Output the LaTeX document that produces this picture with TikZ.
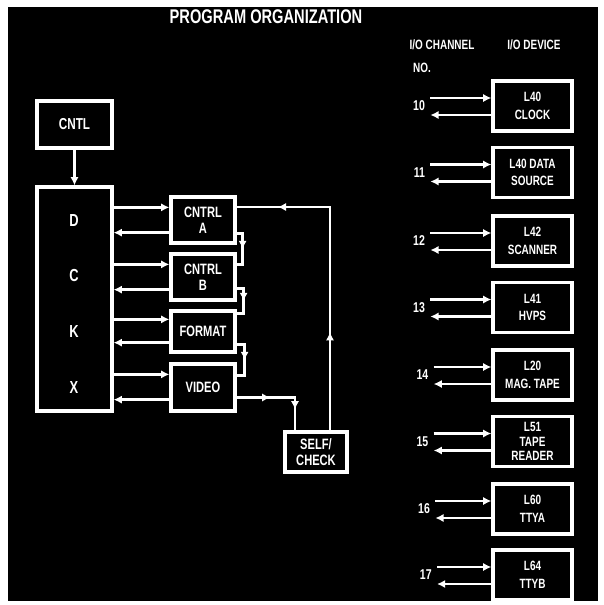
\documentclass[tikz,border=0pt]{standalone}
\usepackage{fontspec}
\setmainfont{Liberation Sans}
\usepackage{graphicx}
\usetikzlibrary{arrows.meta,calc,decorations.markings}
\newcommand{\tallt}[1]{\scalebox{1}[1.35]{#1}}

\begin{document}
\begin{tikzpicture}[
    x=0.03cm, y=-0.03cm,
    every node/.style={text=white},
    box/.style={draw=white, line width=2.8pt, align=center, inner sep=1pt},
    midbox/.style={box, minimum width=1.92cm, font=\fontsize{9.5}{14}\bfseries},
    devbox/.style={box, minimum width=2.37cm, minimum height=1.5cm, font=\fontsize{8.5}{15}\bfseries},
    num/.style={font=\fontsize{9}{11}\bfseries, inner sep=1pt, anchor=east},
    head/.style={font=\fontsize{8.5}{10}\bfseries, inner sep=1pt},
    link/.style={draw=white, line width=2.2pt},
    arr/.style={link, -{Latex[length=7pt,width=7pt]}},
    midarr/.style={link, decoration={markings, mark=at position 0.5 with {\arrow{Latex[length=7pt,width=7pt]}}}, postaction={decorate}},
    twoarr/.style 2 args={draw=white, line width=2.2pt, decoration={markings,
        mark=at position #1 with {\arrow{Latex[length=7pt,width=7pt]}},
        mark=at position #2 with {\arrow{Latex[length=7pt,width=7pt]}}}, postaction={decorate}}
]

% frame
\fill[white] (0,0) rectangle (603,605);
\fill[black] (8,7) rectangle (598,601);

\node[font=\fontsize{12.5}{14}\bfseries] (title) at (266,17) {\tallt{PROGRAM ORGANIZATION}};
\node[head] (hch) at (442,45) {\tallt{I/O CHANNEL}};
\node[head] (hno) at (422,68) {\tallt{NO.}};
\node[head] (hdev) at (534,45) {\tallt{I/O DEVICE}};

% program side
\node[box, minimum width=2.25cm, minimum height=1.41cm, font=\fontsize{10}{12}\bfseries] (cntl) at (74.5,124.5) {\tallt{CNTL}};
\node[box, minimum width=2.25cm, minimum height=6.72cm] (main) at (74.5,299) {};
\node[font=\fontsize{11}{13}\bfseries] (ld) at (74,221) {\tallt{D}};
\node[font=\fontsize{11}{13}\bfseries] (lc) at (74,276) {\tallt{C}};
\node[font=\fontsize{11}{13}\bfseries] (lk) at (74,332) {\tallt{K}};
\node[font=\fontsize{11}{13}\bfseries] (lx) at (74,388) {\tallt{X}};

\node[midbox, minimum height=1.38cm] (ctla) at (203,220) {\tallt{CNTRL}\\\tallt{A}};
\node[midbox, minimum height=1.38cm] (ctlb) at (203,277) {\tallt{CNTRL}\\\tallt{B}};
\node[midbox, minimum height=1.23cm] (fmt) at (203,331.5) {\tallt{FORMAT}};
\node[midbox, minimum height=1.41cm] (vid) at (203,387.5) {\tallt{VIDEO}};
\node[midbox, minimum width=1.86cm, minimum height=1.2cm] (self) at (316,452) {\tallt{SELF/}\\\tallt{CHECK}};

\draw[arr] (cntl) -- (main);

\coordinate (ai) at ([yshift=-0.36cm]ctla.north west);
\coordinate (ao) at ([yshift=0.36cm]ctla.south west);
\coordinate (bi) at ([yshift=-0.36cm]ctlb.north west);
\coordinate (bo) at ([yshift=0.36cm]ctlb.south west);
\coordinate (fi) at ([yshift=-0.3cm]fmt.north west);
\coordinate (fo) at ([yshift=0.33cm]fmt.south west);
\coordinate (vi) at ([yshift=-0.36cm]vid.north west);
\coordinate (vo) at ([yshift=0.39cm]vid.south west);

\draw[arr] (main.east |- ai) -- (ai);
\draw[arr] (ao) -- (main.east |- ao);
\draw[arr] (main.east |- bi) -- (bi);
\draw[arr] (bo) -- (main.east |- bo);
\draw[arr] (main.east |- fi) -- (fi);
\draw[arr] (fo) -- (main.east |- fo);
\draw[arr] (main.east |- vi) -- (vi);
\draw[arr] (vo) -- (main.east |- vo);

\draw[midarr] ([yshift=0.33cm]ctla.south east) -- ++(6,0) |- ([yshift=-0.36cm]ctlb.north east);
\draw[midarr] ([yshift=0.39cm]ctlb.south east) -- ++(7,0) |- ([yshift=-0.12cm]fmt.north east);
\draw[midarr] ([yshift=0.27cm]fmt.south east) -- ++(8,0) |- ([yshift=-0.39cm]vid.north east);
\draw[twoarr={0.37}{0.77}] ([yshift=-0.3cm]vid.east) -| ([xshift=-0.63cm]self.north);
\draw[twoarr={0.31}{0.87}] ([xshift=0.42cm]self.north) |- ([yshift=0.39cm]ctla.east);

% devices
\node[devbox] (clk) at (532.5,106) {\tallt{L40}\\\tallt{CLOCK}};
\node[devbox] (dsrc) at (532.5,172.5) {\tallt{L40 DATA}\\\tallt{SOURCE}};
\node[devbox] (scan) at (532.5,241) {\tallt{L42}\\\tallt{SCANNER}};
\node[devbox] (hvps) at (532.5,307.5) {\tallt{L41}\\\tallt{HVPS}};
\node[devbox] (mag) at (532.5,375) {\tallt{L20}\\\tallt{MAG. TAPE}};
\node[devbox, font=\fontsize{8.5}{12.5}\bfseries] (rdr) at (532.5,441.5) {\tallt{L51}\\\tallt{TAPE}\\\tallt{READER}};
\node[devbox] (ttya) at (532.5,509) {\tallt{L60}\\\tallt{TTYA}};
\node[devbox] (ttyb) at (532.5,575) {\tallt{L64}\\\tallt{TTYB}};

\node[num] (c10) at ([xshift=-1.95cm]clk.west) {\tallt{10}};
\node[num] (c11) at ([xshift=-1.95cm]dsrc.west) {\tallt{11}};
\node[num] (c12) at ([xshift=-1.95cm]scan.west) {\tallt{12}};
\node[num] (c13) at ([xshift=-1.95cm]hvps.west) {\tallt{13}};
\node[num] (c14) at ([xshift=-1.85cm]mag.west) {\tallt{14}};
\node[num] (c15) at ([xshift=-1.85cm]rdr.west) {\tallt{15}};
\node[num] (c16) at ([xshift=-1.8cm]ttya.west) {\tallt{16}};
\node[num] (c17) at ([xshift=-1.75cm]ttyb.west) {\tallt{17}};

\draw[arr] ([shift={(4,-8)}]c10.east) -- ([shift={(0,-8)}]clk.west);
\draw[arr] ([shift={(0,9)}]clk.west) -- ([shift={(4,9)}]c10.east);
\draw[arr] ([shift={(4,-8)}]c11.east) -- ([shift={(0,-8)}]dsrc.west);
\draw[arr] ([shift={(0,9)}]dsrc.west) -- ([shift={(4,9)}]c11.east);
\draw[arr] ([shift={(4,-8)}]c12.east) -- ([shift={(0,-8)}]scan.west);
\draw[arr] ([shift={(0,9)}]scan.west) -- ([shift={(4,9)}]c12.east);
\draw[arr] ([shift={(4,-8)}]c13.east) -- ([shift={(0,-8)}]hvps.west);
\draw[arr] ([shift={(0,9)}]hvps.west) -- ([shift={(4,9)}]c13.east);
\draw[arr] ([shift={(4,-8)}]c14.east) -- ([shift={(0,-8)}]mag.west);
\draw[arr] ([shift={(0,9)}]mag.west) -- ([shift={(4,9)}]c14.east);
\draw[arr] ([shift={(4,-8)}]c15.east) -- ([shift={(0,-8)}]rdr.west);
\draw[arr] ([shift={(0,9)}]rdr.west) -- ([shift={(4,9)}]c15.east);
\draw[arr] ([shift={(4,-8)}]c16.east) -- ([shift={(0,-8)}]ttya.west);
\draw[arr] ([shift={(0,9)}]ttya.west) -- ([shift={(4,9)}]c16.east);
\draw[arr] ([shift={(4,-8)}]c17.east) -- ([shift={(0,-8)}]ttyb.west);
\draw[arr] ([shift={(0,9)}]ttyb.west) -- ([shift={(4,9)}]c17.east);
\end{tikzpicture}
\end{document}
